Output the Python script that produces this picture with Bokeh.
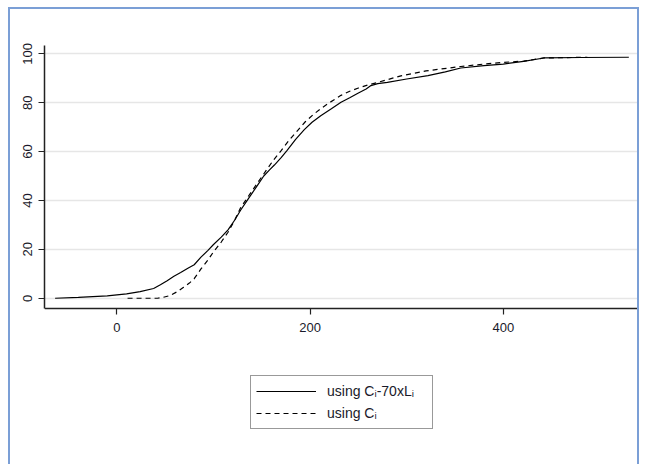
from bokeh.plotting import figure
from bokeh.models import Legend, LegendItem, FixedTicker, Range1d
from bokeh.embed import file_html
from bokeh.resources import INLINE

# Solid series: using C_i - 70 x L_i
solid_x = [-64, -40, -10, 10, 24, 38, 45, 52, 59, 66, 73, 80, 87, 94, 100, 108, 115, 122, 128, 134,
           140, 146, 152, 158, 163, 170, 176, 185, 194, 202, 211, 222, 232, 241, 250, 258, 263, 270,
           280, 300, 322, 340, 356, 380, 400, 421, 442, 480, 530]
solid_y = [0, 0.4, 1.0, 1.8, 2.7, 4, 5.5, 7.2, 9, 10.5, 12.2, 13.7, 16.8, 19.5, 22, 25, 28, 32, 36, 39.5,
           43, 46.5, 50, 52.5, 54.5, 57.5, 60.4, 65, 69, 72, 74.7, 77.5, 80.2, 82, 84, 85.6, 87, 87.8,
           88.3, 89.7, 91.1, 92.6, 94.2, 95.2, 95.8, 96.9, 98.3, 98.5, 98.6]

# Dashed series: using C_i
dashed_x = [11, 42, 48, 55, 62, 69, 75, 80, 87, 94, 100, 108, 115, 122, 128, 134, 140, 147, 154,
            162, 170, 178, 187, 195, 204, 212, 220, 232, 241, 250, 260, 270, 294, 320, 356, 380,
            400, 421, 442, 487]
dashed_y = [0, 0, 0.4, 1.1, 2.6, 4.5, 6.2, 8, 12, 15.5, 19, 23, 27, 32, 37, 40.5, 44, 48, 52,
            56.5, 60.4, 64.5, 68.6, 72.2, 75.4, 77.8, 80, 83, 84.7, 86, 87.3, 88.3, 91, 93, 94.8, 95.8,
            96.5, 97, 98.3, 98.6]

x_ticks = [0, 200, 400]
y_ticks = [0, 20, 40, 60, 80, 100]
label_solid = "using C\u1d62-70xL\u1d62"
label_dashed = "using C\u1d62"

FONT = "Liberation Sans"
Y_LO, Y_HI = -4.2, 103.4

p = figure(width=631, height=457, output_backend="svg", toolbar_location=None,
           x_range=Range1d(-75, 540), y_range=Range1d(-54.1, Y_HI),
           min_border_left=34, min_border_right=3, min_border_top=36, min_border_bottom=36)
p.outline_line_color = None
p.background_fill_color = "white"
p.border_fill_color = "white"
p.styles = {"margin-left": "8px", "margin-top": "7px",
            "border-top": "2px solid #7b9fd6", "border-left": "2px solid #7b9fd6",
            "border-right": "2px solid #7b9fd6"}

r1 = p.line(solid_x, solid_y, line_color="black", line_width=1.2)
r2 = p.line(dashed_x, dashed_y, line_color="black", line_width=1.2, line_dash="5 4")

p.xgrid.grid_line_color = None
p.ygrid.grid_line_color = "#e6e6e6"
p.ygrid.grid_line_width = 1.5
p.ygrid.ticker = FixedTicker(ticks=y_ticks)

for ax in (p.xaxis[0], p.yaxis[0]):
    ax.axis_line_color = "#222222"
    ax.axis_line_width = 1.5
    ax.major_tick_line_color = "#222222"
    ax.major_tick_line_width = 1.2
    ax.major_tick_out = 6
    ax.major_tick_in = 0
    ax.minor_tick_line_color = None
    ax.major_label_text_font = FONT
    ax.major_label_text_font_size = "13px"
    ax.major_label_text_color = "#1a1a2a"

p.xaxis.ticker = FixedTicker(ticks=x_ticks)
p.xaxis.fixed_location = Y_LO
p.yaxis.ticker = FixedTicker(ticks=y_ticks)
p.yaxis.bounds = (Y_LO, Y_HI)
p.yaxis.major_label_orientation = "vertical"
p.xaxis.major_label_standoff = 8
p.yaxis.major_label_standoff = 6

legend = Legend(items=[LegendItem(label=label_solid, renderers=[r1]),
                       LegendItem(label=label_dashed, renderers=[r2])],
                location=(206, 1), orientation="vertical",
                border_line_color="#333333", border_line_width=1.2,
                background_fill_color="white", background_fill_alpha=1,
                padding=5, spacing=2, margin=0,
                glyph_width=60, glyph_height=20, label_height=20, label_width=100,
                label_standoff=11, label_text_font=FONT, label_text_font_size="14px",
                label_text_color="#1a1a2a")
p.add_layout(legend, "center")

open("out.html", "w").write(file_html(p, INLINE))
